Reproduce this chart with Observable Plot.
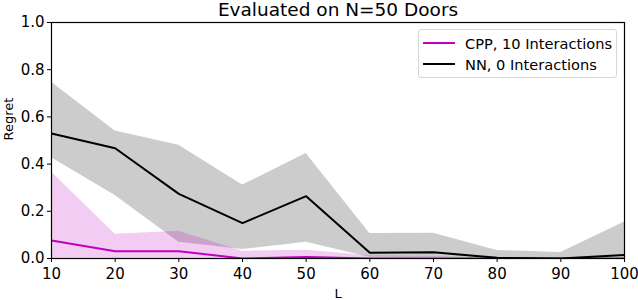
<!DOCTYPE html>
<html><head><meta charset="utf-8">
<script src="https://cdn.jsdelivr.net/npm/d3@7"></script>
<script src="https://cdn.jsdelivr.net/npm/@observablehq/plot@0.6"></script>
<style>
body{margin:0;background:#fff;}
#wrap{position:relative;width:638px;height:300px;font-family:"DejaVu Sans",sans-serif;}
#legend{position:absolute;left:418px;top:29px;width:197px;height:47px;border:1px solid #d6d6d6;border-radius:3px;background:rgba(255,255,255,0.8);font-size:14.6px;}
.entry{position:absolute;left:4px;height:20px;display:flex;align-items:center;}
.entry svg{width:32px;height:4px;margin-right:10px;}
</style></head><body><div id="wrap"></div>
<script>
const L = [10, 20, 30, 40, 50, 60, 70, 80, 90, 100];
const nnMean = [0.530, 0.467, 0.274, 0.150, 0.264, 0.024, 0.026, 0.003, 0.000, 0.015];
const nnLow  = [0.427, 0.267, 0.069, 0.038, 0.069, 0.005, 0.004, 0.000, 0.000, 0.000];
const nnHigh = [0.747, 0.540, 0.480, 0.311, 0.445, 0.106, 0.107, 0.034, 0.025, 0.155];
const cppMean = [0.076, 0.031, 0.031, 0.000, 0.006, 0.000, 0.000, 0.000, 0.000, 0.000];
const cppLow  = [0, 0, 0, 0, 0, 0, 0, 0, 0, 0];
const cppHigh = [0.366, 0.103, 0.115, 0.031, 0.035, 0.012, 0.008, 0.000, 0.000, 0.000];
const seriesNames = ["CPP, 10 Interactions", "NN, 0 Interactions"];
const seriesColors = ["#bf00bf", "#000000"];
const titleText = "Evaluated on N=50 Doors";
const xLabel = "L";
const yLabel = "Regret";
const xTicks = [10, 20, 30, 40, 50, 60, 70, 80, 90, 100];
const yTicks = [0, 0.2, 0.4, 0.6, 0.8, 1.0];

const rows = L.map((l, i) => ({
  L: l, nnMean: nnMean[i], nnLow: nnLow[i], nnHigh: nnHigh[i],
  cppMean: cppMean[i], cppLow: cppLow[i], cppHigh: cppHigh[i]
}));

const chart = Plot.plot({
  width: 638, height: 300,
  marginTop: 22, marginBottom: 42, marginLeft: 51, marginRight: 14,
  style: {fontFamily: "DejaVu Sans", fontSize: "15px", color: "black", background: "white"},
  x: {domain: [10, 100]},
  y: {domain: [0, 1]},
  marks: [
    Plot.areaY(rows, {x: "L", y1: "nnLow", y2: "nnHigh", fill: "#000000", fillOpacity: 0.2, clip: true}),
    Plot.areaY(rows, {x: "L", y1: "cppLow", y2: "cppHigh", fill: seriesColors[0], fillOpacity: 0.2, clip: true}),
    Plot.lineY(rows, {x: "L", y: "cppMean", stroke: seriesColors[0], strokeWidth: 2, clip: true}),
    Plot.lineY(rows, {x: "L", y: "nnMean", stroke: seriesColors[1], strokeWidth: 2, clip: true}),
    Plot.frame({stroke: "black", strokeWidth: 1.2}),
    Plot.axisX({ticks: xTicks, tickSize: 4, tickPadding: 6, fontSize: 15, label: null, tickFormat: d => String(d)}),
    Plot.axisY({ticks: yTicks, tickSize: 4, tickPadding: 3, fontSize: 15, label: null, tickFormat: d3.format(".1f")}),
    Plot.text([titleText], {frameAnchor: "top", dy: -7, fontSize: 18.5, text: d => d, lineAnchor: "bottom"}),
    Plot.text([xLabel], {frameAnchor: "bottom", dy: 39, fontSize: 13, text: d => d, lineAnchor: "bottom"}),
    Plot.text([yLabel], {frameAnchor: "left", dx: -43, rotate: -90, fontSize: 13, text: d => d})
  ]
});
const wrap = document.getElementById("wrap");
wrap.appendChild(chart);

const legend = document.createElement("div");
legend.id = "legend";
seriesNames.forEach((name, i) => {
  const e = document.createElement("div");
  e.className = "entry";
  e.style.top = (3 + i * 21) + "px";
  e.innerHTML = `<svg viewBox="0 0 32 4"><line x1="0" y1="2" x2="32" y2="2" stroke="${seriesColors[i]}" stroke-width="2"/></svg><span>${name}</span>`;
  legend.appendChild(e);
});
wrap.appendChild(legend);
</script></body></html>
